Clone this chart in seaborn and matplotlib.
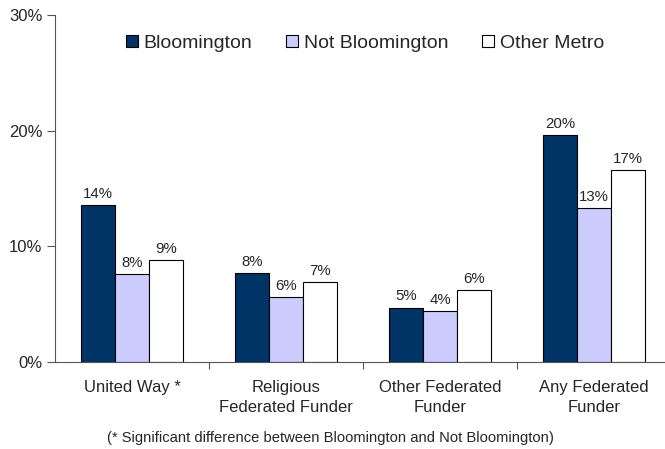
import numpy as np
import pandas as pd
import seaborn as sns
from matplotlib import pyplot as plt
from matplotlib.ticker import PercentFormatter

categories = ['United Way *', 'Religious\nFederated Funder',
              'Other Federated\nFunder', 'Any Federated\nFunder']
groups = ['Bloomington', 'Not Bloomington', 'Other Metro']
bloomington = [13.6, 7.7, 4.7, 19.6]
not_bloomington = [7.6, 5.6, 4.4, 13.3]
other_metro = [8.8, 6.9, 6.2, 16.6]
colors = ['#003366', '#CCCCFF', '#FFFFFF']

# long format for seaborn
rows = []
for grp, vals in zip(groups, [bloomington, not_bloomington, other_metro]):
    for cat, v in zip(categories, vals):
        rows.append({'category': cat, 'group': grp, 'value': v})
df = pd.DataFrame(rows)

sns.set_style('white')
plt.rcParams['font.family'] = ['Liberation Sans', 'DejaVu Sans']

fig = plt.figure(figsize=(6.65, 4.49), dpi=100)
W, H = 665, 449
ax = fig.add_axes([55 / W, (H - 362) / H, (671 - 55) / W, (362 - 15) / H])

sns.barplot(data=df, x='category', y='value', hue='group', order=categories,
            hue_order=groups, palette=colors, saturation=1, width=0.66, gap=0,
            edgecolor='black', linewidth=0.8, ax=ax)

for cont in ax.containers:
    ax.bar_label(cont, fmt='%.0f%%', padding=3, fontsize=10.8)

ax.set_ylim(0, 30)
ax.set_xlim(-0.5, 3.5)
ax.set_yticks([0, 10, 20, 30])
ax.yaxis.set_major_formatter(PercentFormatter(decimals=0))
ax.tick_params(axis='y', direction='out', length=6, width=0.8, color='#555555',
               labelsize=12, pad=3, left=True)

ax.set_xticks(np.arange(len(categories)))
ax.set_xticklabels(categories, fontsize=12, linespacing=1.4)
ax.tick_params(axis='x', which='major', length=0, pad=13)
ax.set_xticks(np.arange(len(categories) - 1) + 0.5, minor=True)
ax.tick_params(axis='x', which='minor', direction='out', length=5, width=0.8,
               color='#555555', bottom=True)

ax.set_xlabel('')
ax.set_ylabel('')
for side in ['top', 'right']:
    ax.spines[side].set_visible(False)
for side in ['left', 'bottom']:
    ax.spines[side].set_color('#555555')
    ax.spines[side].set_linewidth(0.8)

ax.legend(loc='upper center', bbox_to_anchor=(365 / W, 1 - 27 / H),
          bbox_transform=fig.transFigure, ncol=3, frameon=False,
          fontsize=14, handlelength=0.6, handleheight=0.6,
          handletextpad=0.3, columnspacing=1.75, borderaxespad=0)

fig.text(330 / W, 1 - 438 / H,
         '(* Significant difference between Bloomington and Not Bloomington)',
         ha='center', va='center', fontsize=10.6)

fig.savefig('out.png', dpi=100)
